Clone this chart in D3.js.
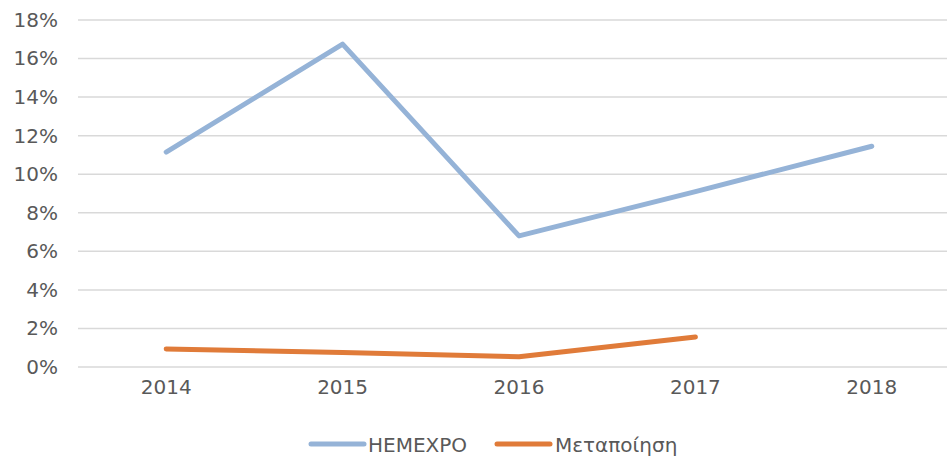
<!DOCTYPE html>
<html><head><meta charset="utf-8">
<script src="https://cdn.jsdelivr.net/npm/d3@7/dist/d3.min.js"></script>
<style>body{margin:0;background:#fff;} svg{display:block;} text{font-family:"DejaVu Sans",sans-serif;fill:#595959;}</style>
</head><body>
<script>
const years = ["2014","2015","2016","2017","2018"];
const hemexpo = [11.15, 16.75, 6.8, 9.1, 11.45];
const metapoiisi = [0.94, 0.75, 0.53, 1.56, null];
const yTicks = [0,2,4,6,8,10,12,14,16,18];
const seriesNames = ["HEMEXPO","Μεταποίηση"];
const colors = ["#95B3D7","#E07B39"];

const W=947,H=456;
const svg=d3.select("body").append("svg").attr("width",W).attr("height",H);
const x=d3.scaleBand().domain(years).range([78,960]);
const y=d3.scaleLinear().domain([0,18]).range([367,20]);

// gridlines
svg.append("g").selectAll("line").data(yTicks).join("line")
  .attr("x1",78).attr("x2",W).attr("y1",d=>y(d)).attr("y2",d=>y(d))
  .attr("stroke","#d9d9d9").attr("stroke-width",1.5);

// y labels
const yAxis=d3.axisLeft(y).tickValues(yTicks).tickFormat(d=>d+"%").tickSize(0).tickPadding(0);
const gy=svg.append("g").attr("transform","translate(58,0)").call(yAxis);
gy.select(".domain").remove();
gy.selectAll("text").attr("font-size",20).attr("font-family","DejaVu Sans").attr("fill","#595959");

// x labels
const xAxis=d3.axisBottom(x).tickSize(0).tickPadding(0);
const gx=svg.append("g").attr("transform","translate(0,380)").call(xAxis);
gx.select(".domain").remove();
gx.selectAll("text").attr("font-size",20).attr("font-family","DejaVu Sans").attr("fill","#595959").attr("dy","0.71em");

const line=d3.line().defined(d=>d.v!=null).x(d=>x(d.k)+x.bandwidth()/2).y(d=>y(d.v));
[hemexpo,metapoiisi].forEach((s,i)=>{
  svg.append("path").datum(years.map((k,j)=>({k,v:s[j]})))
    .attr("d",line).attr("fill","none").attr("stroke",colors[i])
    .attr("stroke-width",5).attr("stroke-linecap","round").attr("stroke-linejoin","round");
});

// legend
const leg=[{x1:311,x2:364,tx:368},{x1:497,x2:550,tx:555}];
leg.forEach((l,i)=>{
  svg.append("line").attr("x1",l.x1).attr("x2",l.x2).attr("y1",444).attr("y2",444)
    .attr("stroke",colors[i]).attr("stroke-width",5).attr("stroke-linecap","round");
  svg.append("text").attr("x",l.tx).attr("y",452).attr("font-size",20).text(seriesNames[i]);
});
</script>
</body></html>
